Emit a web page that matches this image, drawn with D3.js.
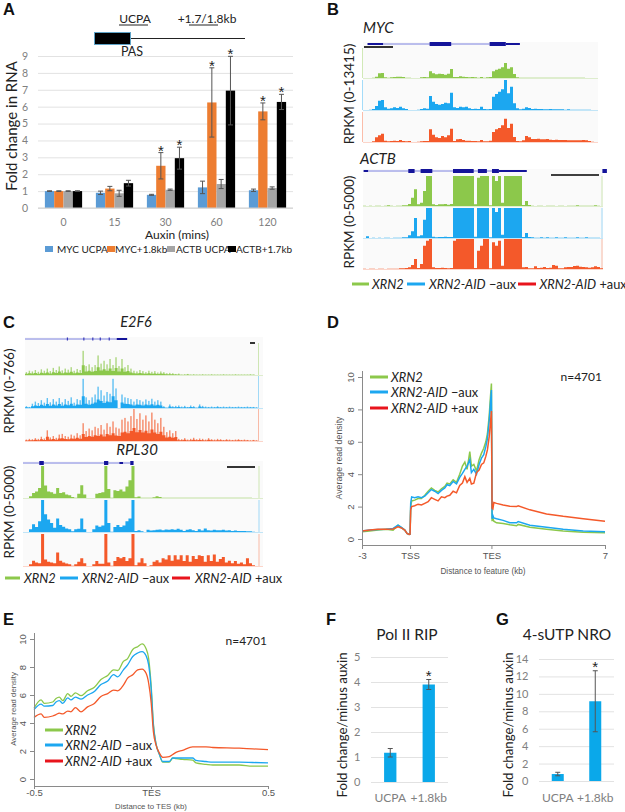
<!doctype html>
<html lang="en">
  <head>
    <meta charset="utf-8">
    <title>XRN2 read-through figure</title>
    <script src="https://d3js.org/d3.v7.min.js"></script>
    <style>
    html, body { margin: 0; padding: 0; background: #fff; }
    svg { display: block; }
    text { font-family: Lato, "Open Sans", sans-serif; fill: #222; }
    .panel { font-family: "Liberation Sans", sans-serif; font-weight: bold; font-size: 16.5px; fill: #111; }
    .arial { font-family: "Liberation Sans", sans-serif; }
    </style>
  </head>
  <body>
    <svg width="625" height="812"></svg>
    <script>
      // panel A
      var timepoints = ['0', '15', '30', '60', '120'];
      var seriesA = ['MYC UCPA', 'MYC+1.8kb', 'ACTB UCPA', 'ACTB+1.7kb'];
      var mycUcpa = [1, 0.9, 0.78, 1.22, 1.05];
      var myc18 = [1, 1.15, 2.5, 6.25, 5.72];
      var actbUcpa = [1, 0.87, 1.08, 1.42, 1.18];
      var actb17 = [1, 1.47, 2.95, 6.95, 6.28];
      var mycUcpaErr = [0.02, 0.1, 0.03, 0.37, 0.07];
      var myc18Err = [0.02, 0.13, 0.78, 2.05, 0.5];
      var actbUcpaErr = [0.02, 0.18, 0.04, 0.27, 0.07];
      var actb17Err = [0.02, 0.17, 0.65, 2.03, 0.45];
      var starsA = [[], [], [1, 3], [1, 3], [1, 3]];

      // browser tracks, binned. 90 = top of the RPKM range on the track's axis
      var mycGreen = [0,0,0,1,4,14,15,2,1,2,3,4,4,3,1,1,0,0,0,2,3,2,20,14,11,13,12,10,13,27,3,3,5,4,3,2,3,2,1,3,1,2,3,20,25,28,32,45,28,32,12,2,1,1,1,1,1,1,1,1,1,1,1,1,1,1,1,1,1,1,1,1,1,1,0,0,0,0];
      var mycBlue = [0,0,1,3,12,28,30,8,4,5,8,6,10,5,3,0,0,0,1,3,5,4,42,25,18,16,18,22,20,52,8,6,10,8,10,5,3,4,3,10,3,2,3,40,48,55,62,90,50,70,20,5,2,4,8,6,3,4,3,3,2,2,3,2,2,2,2,1,2,1,1,1,1,1,1,1,0,0];
      var mycRed = [0,0,0,2,14,20,25,4,2,3,4,3,6,3,2,3,0,0,1,2,3,3,38,22,14,12,18,14,20,40,3,8,9,6,4,4,3,3,2,6,2,2,4,30,38,42,50,70,42,55,15,3,2,5,18,14,9,9,10,8,8,9,7,6,7,6,6,6,5,5,5,5,5,6,5,3,1,0];

      var actbGreen = [1,0,1,0,1,1,0,1,2,1,0,1,1,2,2,6,25,50,5,10,45,90,90,5,3,5,5,6,4,6,90,90,90,90,90,90,90,5,85,90,90,90,2,90,75,90,10,90,90,90,90,90,90,3,15,3,1,0,1,1,0,1,1,1,0,1,1,0,1,1,1,2,1,1,1,1,1,2,1,0];
      var actbBlue = [0,5,0,1,0,1,0,1,1,0,1,1,1,2,2,8,20,60,5,8,55,90,90,4,2,3,3,4,3,3,90,90,90,90,90,90,90,4,90,90,90,90,2,90,78,90,10,90,90,90,90,90,90,3,15,3,2,1,1,2,1,2,1,1,2,1,1,2,1,1,1,2,1,1,2,1,1,1,1,0];
      var actbRed = [1,0,1,1,0,1,1,0,1,1,1,1,2,2,3,5,12,30,3,15,70,85,90,5,3,3,4,3,2,3,85,90,90,90,90,90,90,3,55,70,90,90,2,80,70,85,10,90,90,90,90,90,90,5,6,2,2,8,3,4,6,3,4,12,10,2,2,5,6,6,9,10,7,6,5,4,5,8,6,2];

      var e2f6Green = [8,12,10,14,9,16,12,18,11,20,14,24,13,18,15,22,12,17,14,68,25,30,22,28,55,32,40,30,45,28,50,25,45,22,28,18,12,10,14,11,8,12,9,11,7,10,8,5,6,5,3,4,1,2,3,1,2,1,1,2,1,1,2,1,1,1,2,1,1,1,2,1,1,1,1,2,1,0];
      var e2f6Blue = [5,3,12,18,14,22,15,28,16,25,18,28,16,25,20,30,15,25,22,82,30,22,30,38,60,50,35,45,40,82,55,0,38,30,28,25,18,25,22,18,24,20,26,18,22,18,5,1,10,5,6,7,4,6,3,7,5,1,10,6,4,3,4,3,5,3,4,3,4,3,3,4,3,3,4,3,3,2];
      var e2f6Red = [4,6,5,8,6,12,7,30,10,14,9,18,20,14,12,18,15,22,16,50,28,35,30,40,36,45,32,50,40,55,38,35,60,65,55,70,92,62,78,60,72,55,80,60,50,65,40,25,30,22,28,6,5,8,4,6,9,5,7,6,4,8,5,4,6,5,3,5,4,3,4,5,3,4,3,2,3,2];

      var rplGreen = [0,0,5,14,18,28,90,35,18,16,12,28,14,16,10,8,3,1,12,36,10,0,0,0,12,14,16,90,25,1,22,20,24,18,32,50,90,2,4,1,1,1,1,2,5,3,1,1,1,1,1,1,1,1,1,1,1,1,1,1,1,1,1,1,1,1,1,1,1,1,1,1,1,1,1,1,0,0];
      var rplBlue = [0,0,8,22,14,30,90,50,35,25,12,38,20,15,10,8,2,8,9,38,8,0,0,8,18,15,18,90,25,1,14,20,14,18,30,38,90,3,5,2,0,6,4,5,6,7,5,7,6,8,6,9,6,3,6,8,5,3,8,4,10,5,4,6,5,5,6,4,5,3,4,3,3,3,2,2,1,0];
      var rplRed = [0,0,5,15,10,8,90,18,12,10,8,38,15,10,7,5,1,5,12,22,8,0,0,5,14,6,6,90,10,1,14,25,22,25,14,22,90,2,10,22,8,0,2,12,16,10,22,18,30,15,30,18,30,14,30,12,28,20,30,28,12,30,14,32,12,20,25,10,15,8,14,6,10,5,22,8,2,0];

      // gene models: [start, end, exon thickness], in the same bins as the tracks
      var mycExons = [[1.5,6.7,1],[22.2,29.4,2],[42.2,47.6,2],[47.6,52.3,1]];
      var mycIntron = [6.7, 42.2];
      var actbExons = [[0.2,1.7,1],[15.1,17.2,2],[19.2,23.1,2],[30,36.9,2],[38.3,41.3,2],[43,45.3,2],[45.3,54.6,1],[79.8,81.3,2]];
      var actbIntron = [1.7, 45.3];
      var e2f6Exons = [[30.7,34.2,1]];
      var e2f6Small = [14,19.5,22.5,25,28];
      var e2f6Intron = [0, 30.7];
      var rplExons = [[5.4,6.9,2],[26.9,28.3,2],[32,33.2,1],[35.6,36.7,2]];
      var rplIntron = [0, 35.6];

      // panel D, x in kb with the gene body squeezed so TES sits at 5.08
      var xD = [-3,-2.52,-2,-1.48,-1.06,-0.75,-0.54,-0.33,-0.19,-0.06,0,0.04,0.1,0.29,0.5,0.71,0.92,1.13,1.33,1.54,1.75,1.96,2.17,2.31,2.48,2.69,2.9,3.1,3.27,3.42,3.56,3.73,3.83,3.98,4.15,4.31,4.46,4.6,4.73,4.83,4.94,5.02,5.08,5.12,5.17,5.23,5.4,5.81,6.23,6.65,6.75,7.48,8.52,9.56,10.81,12.17];
      var dGreen = [0.45,0.5,0.55,0.6,0.55,0.85,0.7,0.55,0.35,0.28,0.3,2,2.35,2.4,2.5,2.5,2.7,2.95,3.15,3,2.9,3.1,3.25,3.45,3.4,3.65,3.5,4,4.5,4.75,4.3,5.4,4.5,4.6,4.2,4.9,5.3,5.6,6,6.5,7.6,8.8,9.6,1.1,1.3,1.1,1,0.95,0.88,0.82,0.9,0.72,0.6,0.5,0.42,0.38];
      var dBlue = [0.5,0.55,0.58,0.6,0.65,0.85,0.72,0.55,0.35,0.28,0.3,2.2,2.6,2.55,2.6,2.55,2.65,2.85,3.05,2.95,2.8,3,3.15,3.35,3.3,3.55,3.4,3.8,4.05,4.3,4.5,4.9,4.1,4.3,4,4.6,5,5.2,5.7,6.2,7.3,8.4,9.2,1.25,1.45,1.3,1.25,1.15,1,1,1.08,0.85,0.72,0.6,0.5,0.45];
      var dRed = [0.5,0.55,0.6,0.6,0.62,0.75,0.68,0.55,0.35,0.28,0.3,1.8,2,2.05,2.15,2.1,2.2,2.3,2.55,2.45,2.35,2.6,2.55,2.65,2.7,2.95,2.85,3.3,3.45,3.85,3.5,3.75,3.4,3.45,4.1,4.25,4.6,4.7,5.1,5.5,6.3,7.2,7.9,1.9,1.85,2.25,2.2,2.1,2.02,2,2.05,1.8,1.55,1.4,1.25,1.1];

      // panel E
      var xE = [-0.5,-0.47,-0.456,-0.42,-0.406,-0.392,-0.377,-0.356,-0.342,-0.323,-0.299,-0.271,-0.242,-0.214,-0.185,-0.16,-0.142,-0.118,-0.1,-0.078,-0.057,-0.038,-0.021,-0.01,0.001,0.01,0.021,0.036,0.05,0.078,0.093,0.107,0.135,0.178,0.192,0.235,0.264,0.377,0.434,0.5];
      var eGreen = [5.05,5.65,5.4,5.5,5.75,5.85,5.6,6.1,5.9,6.15,5.95,6.3,6.55,7.1,7.4,7.8,7.75,8.4,8.6,9.25,9.45,9.65,9.3,8.6,6.6,4,2.55,1.75,1.2,1.2,1.5,1.45,1.4,1.35,1.15,1.05,1,1,0.92,0.92];
      var eBlue = [4.95,5.35,5.2,5.25,5.5,5.6,5.4,5.8,5.65,5.85,5.7,6,6.25,6.75,7,7.45,7.3,7.8,8.15,8.75,9,9.1,8.8,8.15,6.35,3.85,2.55,1.75,1.25,1.25,1.5,1.5,1.5,1.5,1.33,1.25,1.2,1.2,1.18,1.15];
      var eRed = [4.4,4.65,4.4,4.5,4.6,4.7,4.65,4.85,4.8,5.1,4.8,5.15,5.4,5.9,6.1,6.35,6.3,6.7,7.2,7.45,7.8,7.85,7.55,6.85,5.4,3.4,2.45,1.85,1.55,1.6,1.75,1.9,2.05,2.3,2.3,2.3,2.25,2.2,2.15,2.1];

      // panels F, G
      var categoriesFG = ['UCPA', '+1.8kb'];
      var ripValues = [1.17, 3.9];
      var ripErr = [0.17, 0.2];
      var nroValues = [0.8, 9.15];
      var nroErr = [0.2, 3.5];

      var green = '#8cc84b', blue = '#1ca7f0', orange = '#f4592a';
      var legendRed = '#e8141c';
      var gridColor = '#e2e2e2', tickColor = '#808080';

      var svg = d3.select('svg');

      var addText = function(str, x, y, size, opts){
        opts = opts || {};
        var t = svg.append('text')
          .attr('x', x)
          .attr('y', y)
          .attr('font-size', size)
          .attr('text-anchor', opts.anchor || 'start')
          .text(str);
        if (opts.italic) t.style('font-style', 'italic');
        if (opts.color) t.style('fill', opts.color);
        if (opts.arial) t.classed('arial', true);
        if (opts.rotate) t.attr('transform', 'rotate(-90 ' + x + ' ' + y + ')');
        return t;
      };

      [['A', 3, 15], ['B', 327, 15], ['C', 3, 328], ['D', 327, 328], ['E', 3, 625], ['F', 326, 625], ['G', 496, 625]].forEach(function(p){
        svg.append('text').attr('class', 'panel').attr('x', p[1]).attr('y', p[2]).text(p[0]);
      });

      // ---------- A
      var xA = d3.scaleBand().domain(timepoints).range([38, 293]).paddingInner(0.27).paddingOuter(0.135);
      var xInner = d3.scaleBand().domain(d3.range(4)).range([0, xA.bandwidth()]);
      var yA = d3.scaleLinear().domain([0, 9]).range([208, 56]);
      var colorsA = ['#5b9bd5', '#ed7d31', '#a5a5a5', '#000000'];
      var valuesA = [mycUcpa, myc18, actbUcpa, actb17];
      var errsA = [mycUcpaErr, myc18Err, actbUcpaErr, actb17Err];

      var axisA = svg.append('g')
        .attr('transform', 'translate(38,0)')
        .call(d3.axisLeft(yA).ticks(9).tickSize(-255).tickPadding(10));
      axisA.select('.domain').remove();
      axisA.selectAll('line').attr('stroke', gridColor);
      axisA.selectAll('text').attr('font-size', 10.5).style('fill', tickColor);

      valuesA.forEach(function(vals, s){
        svg.append('g').selectAll('rect').data(vals).enter().append('rect')
          .attr('x', function(d, i){ return xA(timepoints[i]) + xInner(s); })
          .attr('y', function(d){ return yA(d); })
          .attr('width', xInner.bandwidth())
          .attr('height', function(d){ return yA(0) - yA(d); })
          .attr('fill', colorsA[s]);
      });
      valuesA.forEach(function(vals, s){
        vals.forEach(function(v, i){
          var cx = xA(timepoints[i]) + xInner(s) + xInner.bandwidth() / 2;
          var g = svg.append('g').attr('stroke', '#555').attr('stroke-width', 1);
          g.append('line').attr('x1', cx).attr('x2', cx).attr('y1', yA(v + errsA[s][i])).attr('y2', yA(v - errsA[s][i]));
          [v + errsA[s][i], v - errsA[s][i]].forEach(function(e){
            g.append('line').attr('x1', cx - 2.5).attr('x2', cx + 2.5).attr('y1', yA(e)).attr('y2', yA(e));
          });
          if (starsA[i].indexOf(s) >= 0) {
            addText('*', cx, yA(v + errsA[s][i]) + 3, 15, {anchor: 'middle', arial: true});
          }
        });
      });
      svg.append('line').attr('x1', 38).attr('x2', 293).attr('y1', yA(0)).attr('y2', yA(0)).attr('stroke', '#cfcfcf');
      timepoints.forEach(function(t){
        addText(t, xA(t) + xA.bandwidth() / 2, 225.5, 10.5, {anchor: 'middle', color: tickColor});
      });
      addText('Auxin (mins)', 177, 239, 12, {anchor: 'middle'});
      addText('Fold change in RNA', 17, 126, 15, {anchor: 'middle', rotate: true});

      var legendAx = [[45, 57], [107, 115], [167, 176], [228, 236]];
      seriesA.forEach(function(name, s){
        svg.append('rect').attr('x', legendAx[s][0]).attr('y', 246).attr('width', 8).attr('height', 6).attr('fill', colorsA[s]);
        addText(name, legendAx[s][1], 253, 10);
      });

      // little gene sketch above A
      svg.append('line').attr('x1', 131).attr('x2', 245).attr('y1', 38.5).attr('y2', 38.5).attr('stroke', '#222');
      svg.append('rect').attr('x', 94.5).attr('y', 32.5).attr('width', 36).attr('height', 12).attr('fill', '#000').attr('stroke', '#5fa3c7');
      addText('UCPA', 135, 23, 12, {anchor: 'middle'});
      addText('+1.7/1.8kb', 207, 23, 12, {anchor: 'middle'});
      addText('PAS', 132, 56, 12.5, {anchor: 'middle'});
      [[119, 148], [189, 218]].forEach(function(u){
        svg.append('line').attr('x1', u[0]).attr('x2', u[1]).attr('y1', 25).attr('y2', 25).attr('stroke', '#222');
      });

      // ---------- browser tracks
      var trackColors = [green, blue, orange];
      var drawTracks = function(cfg){
        var x = d3.scaleLinear().domain([0, cfg.tracks[0].length]).range(cfg.xRange);
        svg.append('rect')
          .attr('x', cfg.xRange[0]).attr('y', cfg.top)
          .attr('width', cfg.bgRight - cfg.xRange[0]).attr('height', cfg.baselines[2] - cfg.top)
          .attr('fill', '#fafafa');

        cfg.tracks.forEach(function(vals, t){
          var y = d3.scaleLinear().domain([0, 90]).range([cfg.baselines[t], cfg.baselines[t] - cfg.height]).clamp(true);
          var area = d3.area()
            .x(function(d, i){ return x(i); })
            .y0(cfg.baselines[t])
            .y1(function(d){ return y(d); })
            .curve(d3.curveStepAfter);
          if (cfg.spiky) {
            // busy tracks: thin pale spikes over a solid low body
            svg.append('g').selectAll('rect').data(vals).enter().append('rect')
              .attr('x', function(d, i){ return x(i) + 0.7; })
              .attr('y', function(d){ return y(d); })
              .attr('width', 1.4)
              .attr('height', function(d){ return cfg.baselines[t] - y(d); })
              .attr('fill', trackColors[t])
              .attr('fill-opacity', 0.7);
            svg.append('path').datum(vals.concat([0]).map(function(v){ return v * 0.4; }))
              .attr('d', area).attr('fill', trackColors[t]);
          } else {
            svg.append('path').datum(vals.concat([0])).attr('d', area).attr('fill', trackColors[t]);
          }
          svg.append('line')
            .attr('x1', cfg.xRange[0]).attr('x2', cfg.bgRight)
            .attr('y1', cfg.baselines[t] + 0.5).attr('y2', cfg.baselines[t] + 0.5)
            .attr('stroke', trackColors[t]).attr('stroke-opacity', 0.25);
          svg.append('line')
            .attr('x1', cfg.axisX).attr('x2', cfg.axisX)
            .attr('y1', cfg.baselines[t] - cfg.height).attr('y2', cfg.baselines[t])
            .attr('stroke', trackColors[t]).attr('stroke-opacity', 0.4);
        });

        // gene model
        svg.append('line')
          .attr('x1', x(cfg.intron[0])).attr('x2', x(cfg.intron[1]))
          .attr('y1', cfg.geneY).attr('y2', cfg.geneY)
          .attr('stroke', '#5a62d8').attr('stroke-width', 0.8);
        cfg.exons.forEach(function(e){
          var h = e[2] === 2 ? 4 : 2;
          svg.append('rect')
            .attr('x', x(e[0])).attr('y', cfg.geneY - h / 2)
            .attr('width', x(e[1]) - x(e[0])).attr('height', h)
            .attr('fill', '#14149a');
        });
        (cfg.small || []).forEach(function(p){
          svg.append('rect').attr('x', x(p)).attr('y', cfg.geneY - 1.5).attr('width', 1.2).attr('height', 3).attr('fill', '#3a3ab8');
        });
        svg.append('line')
          .attr('x1', cfg.bar[0]).attr('x2', cfg.bar[1])
          .attr('y1', cfg.bar[2]).attr('y2', cfg.bar[2])
          .attr('stroke', '#000').attr('stroke-width', 1.6);
      };

      drawTracks({
        tracks: [mycGreen, mycBlue, mycRed], xRange: [363, 597], bgRight: 598, axisX: 362.5,
        top: 42, baselines: [78, 110, 142], height: 30, geneY: 44,
        exons: mycExons, intron: mycIntron, bar: [364, 393, 47]
      });
      drawTracks({
        tracks: [actbGreen, actbBlue, actbRed], xRange: [363, 603], bgRight: 603, axisX: 602,
        top: 169, baselines: [206, 238, 269], height: 30, geneY: 171,
        exons: actbExons, intron: actbIntron, bar: [551, 599, 175]
      });
      drawTracks({
        tracks: [e2f6Green, e2f6Blue, e2f6Red], xRange: [25, 258], bgRight: 263, axisX: 258.5,
        top: 337, baselines: [375, 408, 441], height: 32, geneY: 339, spiky: true,
        exons: e2f6Exons, intron: e2f6Intron, small: e2f6Small, bar: [250, 255, 343]
      });
      drawTracks({
        tracks: [rplGreen, rplBlue, rplRed], xRange: [23, 258], bgRight: 263, axisX: 259,
        top: 461, baselines: [498, 532, 566], height: 32, geneY: 463,
        exons: rplExons, intron: rplIntron, bar: [227, 255, 467]
      });

      addText('MYC', 363, 33, 15, {italic: true});
      addText('ACTB', 360, 164, 15, {italic: true});
      addText('E2F6', 136, 327, 14.5, {italic: true, anchor: 'middle'});
      addText('RPL30', 137, 455, 15, {italic: true, anchor: 'middle'});
      addText('RPKM (0-13415)', 354, 94, 13.5, {anchor: 'middle', rotate: true});
      addText('RPKM (0-5000)', 354, 222, 13.5, {anchor: 'middle', rotate: true});
      addText('RPKM (0-766)', 13.5, 391, 13.5, {anchor: 'middle', rotate: true});
      addText('RPKM (0-5000)', 13.5, 512, 13.5, {anchor: 'middle', rotate: true});

      var legendColors = [green, blue, legendRed];
      // positions: [line start, line end, y, text x]
      var trackLegend = function(positions){
        var names = [['XRN2', ''], ['XRN2-AID', ' \u2212aux'], ['XRN2-AID', ' +aux']];
        positions.forEach(function(p, i){
          svg.append('line').attr('x1', p[0]).attr('x2', p[1]).attr('y1', p[2]).attr('y2', p[2])
            .attr('stroke', legendColors[i]).attr('stroke-width', 3);
          var t = addText('', p[3], p[2] + 4.5, 12.8);
          t.append('tspan').style('font-style', 'italic').text(names[i][0]);
          t.append('tspan').text(names[i][1]);
        });
      };
      trackLegend([[352, 369, 284, 372], [407, 425, 284, 429], [518, 536, 284, 539.5]]);
      trackLegend([[5, 20, 578, 24], [60, 78, 578, 82], [172, 190, 578, 195]]);

      // ---------- D and E line charts
      var lineChart = function(cfg){
        var x = d3.scaleLinear().domain(cfg.xDomain).range(cfg.xRange);
        var y = d3.scaleLinear().domain([0, 10]).range(cfg.yRange);
        var line = d3.line()
          .x(function(d, i){ return x(cfg.xs[i]); })
          .y(function(d){ return y(d); })
          .curve(cfg.curve);
        cfg.series.forEach(function(vals, t){
          svg.append('path').datum(vals).attr('d', line)
            .attr('fill', 'none').attr('stroke', trackColors[t]).attr('stroke-width', cfg.width);
        });

        var bottom = svg.append('g').attr('transform', 'translate(0,' + cfg.axisY + ')')
          .call(d3.axisBottom(x).tickValues(cfg.tickVals).tickFormat(function(d, i){ return cfg.tickLabels[i]; })
            .tickSize(cfg.tickSize).tickPadding(cfg.tickPad).tickSizeOuter(0));
        var left = svg.append('g').attr('transform', 'translate(' + cfg.xRange[0] + ',0)')
          .call(d3.axisLeft(y).tickValues([0, 2, 4, 6, 8, 10]).tickSize(4).tickSizeOuter(0));
        left.select('.domain').attr('d', 'M0.5,' + cfg.axisY + 'V' + cfg.axisTop);
        [bottom, left].forEach(function(g){
          g.selectAll('path, line').attr('stroke', '#8a8a8a');
          g.selectAll('text').attr('class', 'arial').attr('font-size', 9.5).style('fill', '#555');
        });
        left.selectAll('text')
          .attr('text-anchor', 'middle').attr('dy', null).attr('x', null)
          .attr('transform', 'translate(-8,0) rotate(-90)');
      };

      lineChart({
        xs: xD, series: [dGreen, dBlue, dRed], xDomain: [-3, 12.17], xRange: [362, 605],
        yRange: [539, 377], axisY: 545, axisTop: 371, width: 1.5, curve: d3.curveLinear,
        tickVals: [-3, 0, 5.08, 12.17], tickLabels: ['-3', 'TSS', 'TES', '7'], tickSize: 4, tickPad: 3
      });
      addText('Average read density', 342, 458, 8.8, {anchor: 'middle', rotate: true, arial: true, color: '#555'});
      addText('Distance to feature (kb)', 483, 574, 8.2, {anchor: 'middle', arial: true, color: '#555'});
      addText('n=4701', 602, 381, 12, {anchor: 'end'});
      trackLegend([[370, 388, 377, 391], [370, 388, 392, 391], [370, 388, 408, 391]]);

      lineChart({
        xs: xE, series: [eGreen, eBlue, eRed], xDomain: [-0.5, 0.5], xRange: [34, 268],
        yRange: [779, 639], axisY: 786, axisTop: 633, width: 1.3, curve: d3.curveMonotoneX,
        tickVals: [-0.5, 0, 0.5], tickLabels: ['-0.5', 'TES', '0.5'], tickSize: 3, tickPad: 0
      });
      addText('Average read density', 16, 709, 7.8, {anchor: 'middle', rotate: true, arial: true, color: '#555'});
      addText('Distance to TES (kb)', 151, 809, 7.8, {anchor: 'middle', arial: true, color: '#555'});
      addText('n=4701', 267, 645, 12, {anchor: 'end'});
      trackLegend([[45, 63, 730, 65], [45, 63, 745, 65], [45, 63, 761, 65]]);

      // ---------- F and G bars
      var smallBars = function(cfg){
        var x = d3.scaleBand().domain(categoriesFG).range(cfg.xRange).paddingInner(0.68).paddingOuter(0.34);
        var y = d3.scaleLinear().domain([0, cfg.max]).range(cfg.yRange);
        var axis = svg.append('g').attr('transform', 'translate(' + cfg.xRange[0] + ',0)')
          .call(d3.axisLeft(y).ticks(cfg.ticks).tickSize(-(cfg.xRange[1] - cfg.xRange[0])).tickPadding(10.5));
        axis.select('.domain').remove();
        axis.selectAll('line').attr('stroke', gridColor);
        axis.selectAll('text').attr('font-size', 11).style('fill', tickColor);

        svg.append('g').selectAll('rect').data(cfg.values).enter().append('rect')
          .attr('x', function(d, i){ return x(categoriesFG[i]); })
          .attr('y', function(d){ return y(d); })
          .attr('width', x.bandwidth())
          .attr('height', function(d){ return y(0) - y(d); })
          .attr('fill', '#0aa8ea');
        cfg.values.forEach(function(v, i){
          var cx = x(categoriesFG[i]) + x.bandwidth() / 2;
          var g = svg.append('g').attr('stroke', '#555');
          g.append('line').attr('x1', cx).attr('x2', cx).attr('y1', y(v + cfg.errs[i])).attr('y2', y(v - cfg.errs[i]));
          [v + cfg.errs[i], v - cfg.errs[i]].forEach(function(e){
            g.append('line').attr('x1', cx - 2.5).attr('x2', cx + 2.5).attr('y1', y(e)).attr('y2', y(e));
          });
          addText(categoriesFG[i], cx, 802, 12, {anchor: 'middle', color: tickColor});
          if (i === 1) addText('*', cx, y(v + cfg.errs[i]) + 1, 15, {anchor: 'middle', arial: true});
        });
        addText(cfg.title, cfg.titleX, 640, 15.5, {anchor: 'middle'});
        addText('Fold change/minus auxin', cfg.labelX, 725, 13.3, {anchor: 'middle', rotate: true});
      };

      smallBars({
        xRange: [371, 448], yRange: [782, 657], max: 5, ticks: 5, values: ripValues, errs: ripErr,
        title: 'Pol II RIP', titleX: 407, labelX: 347
      });
      smallBars({
        xRange: [539, 614], yRange: [781, 659], max: 14, ticks: 7, values: nroValues, errs: nroErr,
        title: '4-sUTP NRO', titleX: 567, labelX: 513
      });
    </script>
  </body>
</html>
